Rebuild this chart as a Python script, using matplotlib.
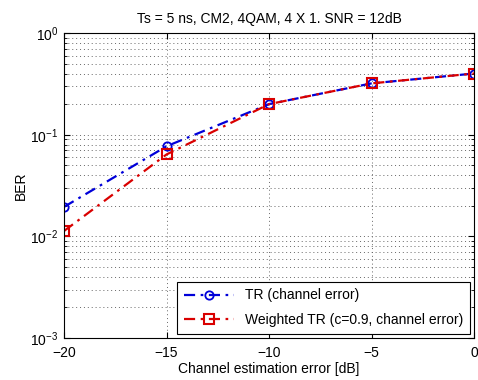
import numpy as np
import matplotlib
matplotlib.use('Agg')
import matplotlib.pyplot as plt
from matplotlib.ticker import LogLocator, NullFormatter

# data
err_db = [-20, -15, -10, -5, 0]
ber_tr = [0.0195, 0.077, 0.20, 0.32, 0.40]
ber_wtr = [0.0113, 0.064, 0.20, 0.32, 0.40]

plt.rcParams['font.family'] = ['Liberation Sans', 'DejaVu Sans']
plt.rcParams['mathtext.default'] = 'regular'

fig = plt.figure(figsize=(4.78, 3.8), dpi=100)
ax = fig.add_axes([0.134, 0.1105, 0.858, 0.8025])

dd = (5, 2.5, 1.2, 2.5)
ax.semilogy(err_db, ber_tr, color=(0, 0, 0.85), lw=1.6, dashes=dd, marker='o',
            ms=6, mfc='none', mew=1.3, label='TR (channel error)')
ax.semilogy(err_db, ber_wtr, color=(0.85, 0, 0), lw=1.6, dashes=dd, marker='s',
            ms=7, mfc='none', mew=1.5, label='Weighted TR (c=0.9, channel error)')

ax.set_xlim(-20, 0)
ax.set_ylim(1e-3, 1)
ax.set_xticks([-20, -15, -10, -5, 0])
ax.yaxis.set_major_locator(LogLocator(base=10, numticks=10))
ax.yaxis.set_minor_locator(LogLocator(base=10, subs=np.arange(2, 10), numticks=10))
ax.yaxis.set_minor_formatter(NullFormatter())

ax.grid(True, which='major', axis='both', color='0.4', ls=(0, (1, 3)), lw=0.7)
ax.grid(True, which='minor', axis='y', color='0.4', ls=(0, (1, 3)), lw=0.7)

ax.tick_params(which='both', direction='in', top=True, right=True, labelsize=10)
ax.tick_params(axis='x', pad=6)
ax.tick_params(axis='y', pad=4)
ax.tick_params(which='major', length=4)
ax.tick_params(which='minor', length=2)
for s in ax.spines.values():
    s.set_linewidth(0.8)

ax.set_title('Ts = 5 ns, CM2, 4QAM, 4 X 1. SNR = 12dB', fontsize=10, pad=7)
ax.set_xlabel('Channel estimation error [dB]', fontsize=10, labelpad=1)
ax.set_ylabel('BER', fontsize=10, labelpad=2)

leg = ax.legend(loc='lower right', fontsize=10, fancybox=False, framealpha=1,
                edgecolor='black', borderpad=0.5, handlelength=3.6,
                labelspacing=0.75, borderaxespad=0.3)
leg.get_frame().set_linewidth(0.8)

fig.savefig('out.png', dpi=100)
